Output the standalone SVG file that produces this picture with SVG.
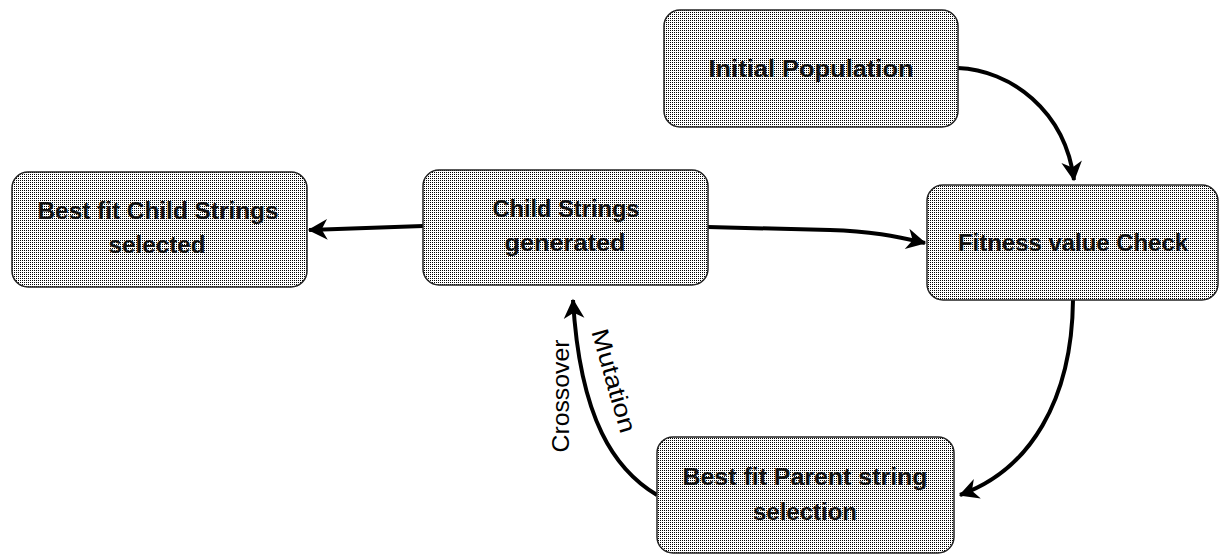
<svg xmlns="http://www.w3.org/2000/svg" width="1220" height="556" viewBox="0 0 1220 556">
<style>
.box{fill:url(#dots);stroke:#222;stroke-width:1.5}
.lbl{font-family:"Liberation Sans",Arial,sans-serif;font-size:23px;font-weight:bold;fill:#111;text-anchor:middle}
.edge{fill:none;stroke:#000;stroke-width:4;marker-end:url(#ah)}
.elbl{font-family:"Liberation Sans",Arial,sans-serif;font-size:24px;fill:#000;text-anchor:middle}
</style>
<defs>
<pattern id="dots" patternUnits="userSpaceOnUse" width="2" height="2">
<rect width="2" height="2" fill="#fff"/>
<rect width="1" height="1" fill="#000"/>
</pattern>
<marker id="ah" markerUnits="userSpaceOnUse" viewBox="0 0 20 20" markerWidth="23" markerHeight="23" refX="17" refY="10" orient="auto">
<path d="M1,1 L18,10 L1,19 L6,10 z" fill="#000"/>
</marker>
</defs>
<rect width="1220" height="556" fill="#fff"/>
<g id="connectors">
<path class="edge" d="M958,68 C1010,70 1065,110 1074,180"/>
<path class="edge" d="M708,227 L830,230 C870,231 895,236 925,243"/>
<path class="edge" d="M423,226 L309,230"/>
<path class="edge" d="M1073,300 C1072,400 1030,470 960,495"/>
<path class="edge" d="M657,495 C615,470 580,420 573,300"/>
<text class="elbl" x="569" y="396" transform="rotate(-90 569 396)" textLength="113" lengthAdjust="spacingAndGlyphs">Crossover</text>
<text class="elbl" x="606" y="383" transform="rotate(74 606 383)" textLength="107" lengthAdjust="spacingAndGlyphs">Mutation</text>
</g>
<g id="initial">
<rect class="box" x="664" y="10" width="294" height="117" rx="16"/>
<text class="lbl" x="811" y="77" textLength="205" lengthAdjust="spacingAndGlyphs">Initial Population</text>
</g>
<g id="fitness">
<rect class="box" x="927" y="185" width="291" height="115" rx="16"/>
<text class="lbl" x="1073" y="251" textLength="230" lengthAdjust="spacingAndGlyphs">Fitness value Check</text>
</g>
<g id="bestchild">
<rect class="box" x="12" y="172" width="295" height="115" rx="16"/>
<text class="lbl" x="158" y="219" textLength="241" lengthAdjust="spacingAndGlyphs">Best fit Child Strings</text>
<text class="lbl" x="157" y="253" textLength="97" lengthAdjust="spacingAndGlyphs">selected</text>
</g>
<g id="child">
<rect class="box" x="423" y="170" width="285" height="115" rx="16"/>
<text class="lbl" x="566" y="217" textLength="147" lengthAdjust="spacingAndGlyphs">Child Strings</text>
<text class="lbl" x="565" y="251" textLength="121" lengthAdjust="spacingAndGlyphs">generated</text>
</g>
<g id="parent">
<rect class="box" x="657" y="437" width="297" height="116" rx="16"/>
<text class="lbl" x="805" y="485" textLength="245" lengthAdjust="spacingAndGlyphs">Best fit Parent string</text>
<text class="lbl" x="805" y="520" textLength="104" lengthAdjust="spacingAndGlyphs">selection</text>
</g>
</svg>
